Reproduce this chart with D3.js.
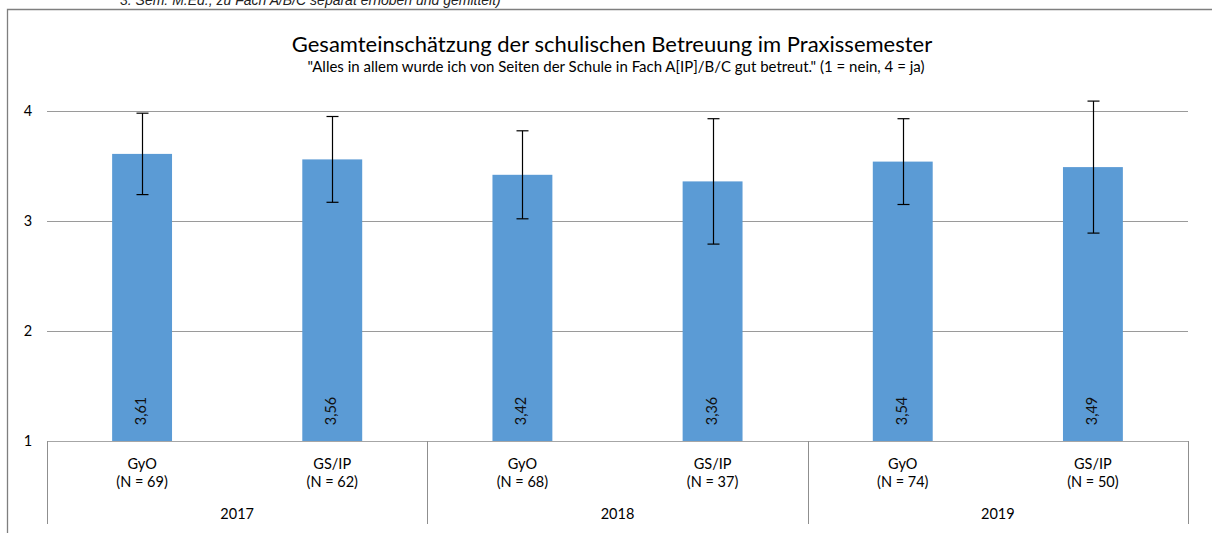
<!DOCTYPE html>
<html>
<head>
<meta charset="utf-8">
<script src="https://cdn.jsdelivr.net/npm/d3@7"></script>
<style>
	body { margin: 0; background: #fff; }
	svg { display: block; }
	text { font-family: Lato, "Open Sans", sans-serif; fill: #000; }
</style>
</head>
<body>
<div id="main"></div>
<script>
const years = ["2017", "2018", "2019"];
const schools = ["GyO", "GS/IP", "GyO", "GS/IP", "GyO", "GS/IP"];
const counts = [69, 62, 68, 37, 74, 50];
const means = [3.61, 3.56, 3.42, 3.36, 3.54, 3.49];
const sds = [0.37, 0.39, 0.4, 0.57, 0.39, 0.6];
const yTicks = [1, 2, 3, 4];

const width = 1212,
	height = 533;

const rows = means.map((m, i) => ({
	id: i,
	year: years[Math.floor(i / 2)],
	school: schools[i],
	n: counts[i],
	mean: m,
	sd: sds[i],
}));

const svg = d3
	.select("#main")
	.append("svg")
	.attr("width", width)
	.attr("height", height);

// line of text from the slide above, cut by the top edge
svg.append("text")
	.attr("x", 120)
	.attr("y", 5)
	.style("font-family", "Liberation Sans, Arial, sans-serif")
	.style("font-style", "italic")
	.style("font-size", "14px")
	.style("fill", "#222")
	.text("3. Sem. M.Ed., zu Fach A/B/C separat erhoben und gemittelt)");

// chart frame (only top and left edge visible)
svg.append("path")
	.attr("d", `M7.5,${height} L7.5,9.5 L${width},9.5`)
	.attr("fill", "none")
	.attr("stroke", "#7f7f7f")
	.attr("stroke-width", 1.3);

const x = d3
	.scaleBand()
	.domain(rows.map((d) => d.id))
	.range([47, 1188])
	.paddingInner(0.685)
	.paddingOuter(0.3425);

const xYear = d3.scaleBand().domain(years).range([47, 1188]);

const y = d3.scaleLinear().domain([1, 4]).range([441, 111]);

// title
svg.append("text")
	.attr("x", 612)
	.attr("y", 52)
	.attr("text-anchor", "middle")
	.style("font-size", "22px")
	.text("Gesamteinschätzung der schulischen Betreuung im Praxissemester");

svg.append("text")
	.attr("x", 616)
	.attr("y", 71.5)
	.attr("text-anchor", "middle")
	.style("font-size", "15px")
	.text('"Alles in allem wurde ich von Seiten der Schule in Fach A[IP]/B/C gut betreut." (1 = nein, 4 = ja)');

// gridlines + y labels
const yAxis = svg.append("g").classed("y-axis", true);
yAxis.selectAll("line")
	.data(yTicks.filter((t) => t > 1))
	.enter()
	.append("line")
	.attr("x1", 47)
	.attr("x2", 1188)
	.attr("y1", (d) => Math.round(y(d)) + 0.5)
	.attr("y2", (d) => Math.round(y(d)) + 0.5)
	.attr("stroke", "#9a9a9a")
	.attr("stroke-width", 1);
yAxis.selectAll("text")
	.data(yTicks)
	.enter()
	.append("text")
	.attr("x", 28)
	.attr("y", (d) => y(d) + 5)
	.attr("text-anchor", "middle")
	.style("font-size", "14.5px")
	.text((d) => d);

// bars
svg.selectAll("rect.bar")
	.data(rows)
	.enter()
	.append("rect")
	.classed("bar", true)
	.attr("x", (d) => x(d.id))
	.attr("width", x.bandwidth())
	.attr("y", (d) => y(d.mean))
	.attr("height", (d) => y(1) - y(d.mean))
	.attr("fill", "#5b9bd5");

// error bars
const err = svg
	.selectAll("g.err")
	.data(rows)
	.enter()
	.append("g")
	.classed("err", true)
	.attr("transform", (d) => `translate(${Math.round(x(d.id) + x.bandwidth() / 2) + 0.5},0)`);
err.append("line")
	.attr("y1", (d) => y(d.mean + d.sd))
	.attr("y2", (d) => y(d.mean - d.sd))
	.attr("stroke", "#000")
	.attr("stroke-width", 1.2);
err.selectAll("line.cap")
	.data((d) => [d.mean + d.sd, d.mean - d.sd])
	.enter()
	.append("line")
	.classed("cap", true)
	.attr("x1", -6)
	.attr("x2", 6)
	.attr("y1", (v) => y(v))
	.attr("y2", (v) => y(v))
	.attr("stroke", "#000")
	.attr("stroke-width", 1.2);

// value labels, rotated inside the bars
svg.selectAll("text.val")
	.data(rows)
	.enter()
	.append("text")
	.classed("val", true)
	.attr("transform", (d) => `translate(${x(d.id) + x.bandwidth() / 2 + 4},411) rotate(-90)`)
	.attr("text-anchor", "middle")
	.style("font-size", "14.5px")
	.style("fill", "#111")
	.text((d) => d3.format(".2f")(d.mean).replace(".", ","));

// category axis
const catAxis = svg.append("g").classed("cat-axis", true);
catAxis.append("line")
	.attr("x1", 47)
	.attr("x2", 1188)
	.attr("y1", 441.5)
	.attr("y2", 441.5)
	.attr("stroke", "#a6a6a6");
catAxis.selectAll("line.sep")
	.data(years.map((yy) => xYear(yy)).concat([xYear.range()[1]]))
	.enter()
	.append("line")
	.classed("sep", true)
	.attr("x1", (d) => Math.round(d) + 0.5)
	.attr("x2", (d) => Math.round(d) + 0.5)
	.attr("y1", 441)
	.attr("y2", 524)
	.attr("stroke", "#8f8f8f");
catAxis.selectAll("text.school")
	.data(rows)
	.enter()
	.append("text")
	.classed("school", true)
	.attr("x", (d) => x(d.id) + x.bandwidth() / 2)
	.attr("y", 469)
	.attr("text-anchor", "middle")
	.style("font-size", "14.5px")
	.text((d) => d.school);
catAxis.selectAll("text.n")
	.data(rows)
	.enter()
	.append("text")
	.classed("n", true)
	.attr("x", (d) => x(d.id) + x.bandwidth() / 2)
	.attr("y", 487)
	.attr("text-anchor", "middle")
	.style("font-size", "14.5px")
	.text((d) => `(N = ${d.n})`);
catAxis.selectAll("text.year")
	.data(years)
	.enter()
	.append("text")
	.classed("year", true)
	.attr("x", (d) => xYear(d) + xYear.bandwidth() / 2)
	.attr("y", 519)
	.attr("text-anchor", "middle")
	.style("font-size", "14.5px")
	.text((d) => d);
</script>
</body>
</html>
